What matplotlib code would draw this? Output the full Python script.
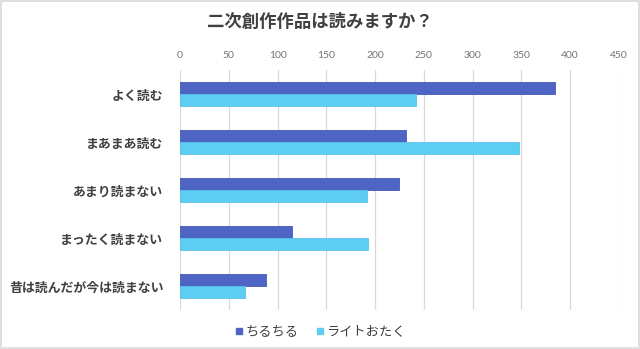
import matplotlib
matplotlib.use('Agg')
import matplotlib.pyplot as plt
import numpy as np
from matplotlib.patches import Rectangle
from matplotlib.lines import Line2D

plt.rcParams['font.family'] = ['Noto Sans CJK JP', 'DejaVu Sans']

# data
categories = ['よく読む', 'まあまあ読む', 'あまり読まない', 'まったく読まない', '昔は読んだが今は読まない']
series_names = ['ちるちる', 'ライトおたく']
chiru = [384, 232, 224, 115, 88]
light_otaku = [242, 347, 192, 193, 67]
xticks = [0, 50, 100, 150, 200, 250, 300, 350, 400, 450]

c_dark = '#4f65c6'
c_light = '#5dcdf3'
text_col = '#404040'

fig = plt.figure(figsize=(6.4, 3.49), dpi=100)
fig.patches.append(Rectangle((0.001, 0.002), 0.997, 0.995, transform=fig.transFigure,
                             fill=False, edgecolor='#d9d9d9', linewidth=1.2))

ax = fig.add_axes([180 / 640, 1 - 310 / 349, 439 / 640, 240 / 349])

y = np.arange(len(categories))
h = 0.256
ax.barh(y - h / 2, chiru, height=h, color=c_dark, edgecolor='#4559b8', linewidth=0.6, zorder=3)
ax.barh(y + h / 2, light_otaku, height=h, color=c_light, edgecolor='#55c3ea', linewidth=0.6, zorder=3)

ax.set_xlim(0, 450)
ax.set_ylim(len(categories) - 0.5, -0.5)
ax.set_xticks(xticks)
ax.xaxis.tick_top()
ax.tick_params(axis='x', length=0, pad=7, labelsize=7.5, labelcolor='#737373')
for lbl in ax.get_xticklabels():
    lbl.set_family(['Lato', 'DejaVu Sans'])
ax.set_yticks(y)
ax.set_yticklabels(categories, fontsize=9.3, color=text_col, fontweight='bold')
ax.tick_params(axis='y', length=0, pad=12)
ax.grid(axis='x', color='#d9d9d9', linewidth=0.9, zorder=0)
for s in ax.spines.values():
    s.set_visible(False)

fig.text(0.5, 1 - 22 / 349, '二次創作作品は読みますか？', ha='center', va='center',
         fontsize=12.5, fontweight='bold', color=text_col)

handles = [Line2D([], [], marker='s', linestyle='none', markersize=5, color=c_dark),
           Line2D([], [], marker='s', linestyle='none', markersize=5, color=c_light)]
fig.legend(handles, series_names, loc='center', bbox_to_anchor=(0.5, 1 - 332 / 349),
           ncol=2, frameon=False, fontsize=9.5, handletextpad=0.1, columnspacing=1.2,
           handlelength=0.8, labelcolor=text_col)

fig.savefig('out.png', dpi=100)
